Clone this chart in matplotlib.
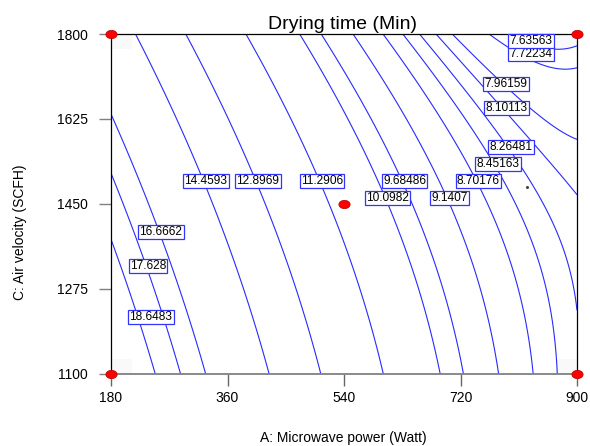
"""Drying time contour plot (Design-Expert style), microwave power vs air velocity."""
import matplotlib
matplotlib.use("Agg")
import matplotlib.pyplot as plt
import numpy as np
from matplotlib.markers import MarkerStyle
from matplotlib.transforms import Affine2D
from matplotlib.patches import Rectangle

plt.rcParams["font.family"] = ["Liberation Sans", "DejaVu Sans"]

# contour levels as labelled on the chart (high -> low)
levels = [18.6483, 17.628, 16.6662, 14.4593, 12.8969, 11.2906, 10.0982,
          9.68486, 9.1407, 8.70176, 8.45163, 8.26481, 8.10113, 7.96159,
          7.72234, 7.63563]

# points, grouped by level (A in Watt, C in SCFH)
trace_n = [3, 3, 3, 5, 5, 5, 5, 5, 6, 6, 7, 6, 4, 4, 4, 1]
trace_A = [180, 214.0, 248.0,
           180, 237.2, 286.6,
           180, 257.3, 328.3,
           218.6, 282.0, 322.1, 360.8, 424.1,
           297.4, 360.8, 407.1, 444.2, 502.9,
           390.1, 456.6, 502.9, 544.6, 600.3,
           472.0, 546.2, 606.4, 634.2, 688.3,
           502.9, 580.2, 632.7, 672.9, 723.9,
           553.9, 637.3, 700.7, 730.0, 761.0, 779.5,
           600.3, 688.3, 748.6, 791.8, 811.9, 832.0,
           631.2, 727.0, 777.9, 801.1, 832.0, 855.2, 870.6,
           657.4, 750.1, 798.0, 842.8, 873.7, 900,
           680.6, 791.1, 835.1, 900,
           708.4, 790.3, 847.5, 900,
           762.5, 829.0, 869.1, 900,
           900]
trace_C = [1371.8, 1248.2, 1100,
           1509.7, 1324.4, 1100,
           1629.1, 1392.4, 1100,
           1800, 1622.9, 1497.4, 1355.3, 1100,
           1800, 1622.9, 1497.4, 1355.3, 1100,
           1800, 1622.9, 1497.4, 1355.3, 1100,
           1800, 1622.9, 1462.4, 1355.3, 1100,
           1800, 1622.9, 1497.4, 1355.3, 1100,
           1800, 1622.9, 1462.4, 1355.3, 1231.8, 1100,
           1800, 1622.9, 1497.4, 1355.3, 1266.8, 1100,
           1800, 1622.9, 1532.4, 1458.2, 1355.3, 1231.8, 1100,
           1800, 1622.9, 1567.4, 1458.2, 1390.3, 1252.4,
           1800, 1647.6, 1561.2, 1464.4,
           1800, 1697.1, 1622.9, 1585.9,
           1800, 1744.4, 1730, 1730,
           1775.3]

# where the value boxes sit
label_A = [241.8, 237.2, 257.3, 326.8, 407.1, 506.0, 607.2, 633.5, 703.0,
           747.8, 778.0, 798.0, 791.1, 790.3, 829.0, 829.0]
label_C = [1217.4, 1322.4, 1392.4, 1497.4, 1497.4, 1497.4, 1462.4, 1497.4,
           1462.4, 1497.4, 1532.4, 1567.4, 1647.6, 1697.1, 1758.8, 1785.6]

# design points (factorial corners + centre)
design_A = [180, 900, 180, 900, 540]
design_C = [1100, 1100, 1800, 1800, 1450]

x_ticks = [180, 360, 540, 720, 900]
y_ticks = [1100, 1275, 1450, 1625, 1800]

# quadratic response surface in coded units, fitted to the traced points
tA = np.array(trace_A)
tC = np.array(trace_C)
tY = np.repeat(levels, trace_n)
a = (tA - 540) / 360
c = (tC - 1450) / 350
X = np.column_stack([np.ones_like(a), a, c, a * a, c * c, a * c])
coef, *_ = np.linalg.lstsq(X, tY, rcond=None)


def surface(A, C):
    a = (A - 540) / 360
    c = (C - 1450) / 350
    return (coef[0] + coef[1] * a + coef[2] * c + coef[3] * a * a
            + coef[4] * c * c + coef[5] * a * c)


gA, gC = np.meshgrid(np.linspace(180, 900, 361), np.linspace(1100, 1800, 351))
Z = surface(gA, gC)

fig = plt.figure(figsize=(5.9, 4.46), dpi=100)
ax = fig.add_axes([111 / 590, 1 - 374 / 446, 466 / 590, 340 / 446])

# faint shaded corners, as in the original export
for (fx, fy) in [(0, 0), (0, 1), (1, 0), (1, 1)]:
    w, h = 0.045, 0.045
    ax.add_patch(Rectangle((fx - w * fx, fy - h * fy), w, h,
                           transform=ax.transAxes, fc="#f9f9f9", ec="none",
                           zorder=0))

ax.contour(gA, gC, Z, levels=sorted(levels), colors="#2a2aff",
           linewidths=0.8, zorder=2)

for v, la, lc in zip(levels, label_A, label_C):
    ax.text(la, lc, f"{v:g}", ha="center", va="center", fontsize=8.6,
            zorder=4,
            bbox=dict(boxstyle="square,pad=0.1", fc="white", ec="#3333ff",
                      lw=0.9))

ax.plot(design_A, design_C, linestyle="none",
        marker=MarkerStyle("o", transform=Affine2D().scale(1.35, 1.0)),
        ms=6, mfc="#ff0000", mec="#b00000", mew=0.5, clip_on=False, zorder=6)
ax.plot([822.7], [1485], linestyle="none", marker="o", ms=1.2,
        color="#444444", zorder=3)

ax.set_xlim(180, 900)
ax.set_ylim(1100, 1800)
ax.set_xticks(x_ticks)
ax.set_yticks(y_ticks)
ax.tick_params(axis="x", direction="out", length=8.5, width=1,
               color="#666666", pad=3.5, labelsize=10)
ax.tick_params(axis="y", direction="out", length=9, width=1,
               color="#808080", pad=7.5, labelsize=10)
for side in ["top", "right", "left"]:
    ax.spines[side].set_color("black")
    ax.spines[side].set_linewidth(0.9)
ax.spines["bottom"].set_color("#808080")
ax.spines["bottom"].set_linewidth(1.3)

fig.text(342 / 590, 1 - 29 / 446, "Drying time (Min)", fontsize=14,
         ha="center", va="baseline")
fig.text(343 / 590, 1 - 438 / 446, "A: Microwave power (Watt)", fontsize=10,
         ha="center", va="center")
fig.text(20 / 590, 1 - 232 / 446, "C: Air velocity (SCFH)", fontsize=10,
         rotation=90, ha="center", va="center")

fig.savefig("out.png", dpi=100)
